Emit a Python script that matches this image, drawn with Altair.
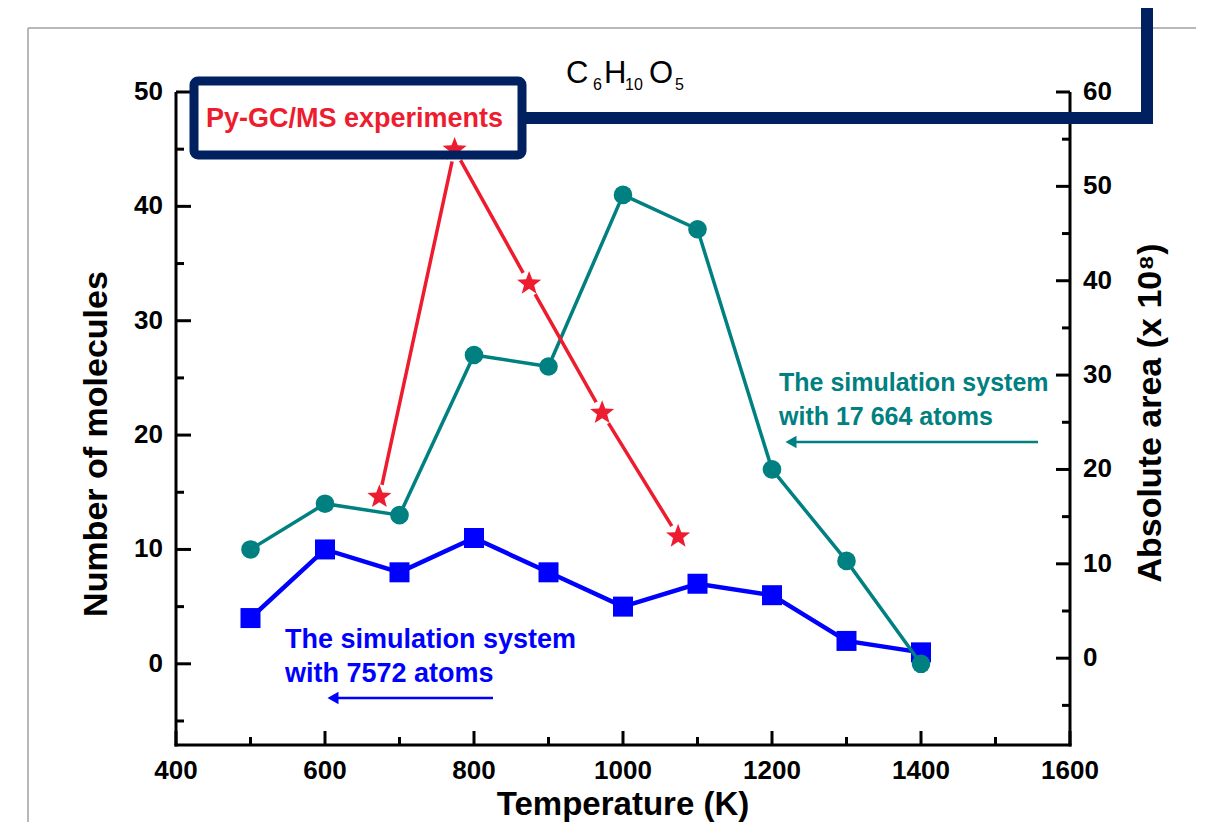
import altair as alt
import pandas as pd

# ---------------- data ----------------
temps_sim = [500, 600, 700, 800, 900, 1000, 1100, 1200, 1300, 1400]
teal_vals = [10, 14, 13, 27, 26, 41, 38, 17, 9, 0]      # 17 664 atoms (left axis)
blue_vals = [4, 10, 8, 11, 8, 5, 7, 6, 2, 1]            # 7572 atoms (left axis)
temps_exp = [673, 774, 874, 972, 1074]
exp_vals = [17.1, 53.9, 39.7, 26.0, 12.9]               # Py-GC/MS (right axis)

left_major = [0, 10, 20, 30, 40, 50]
left_minor = [-5, 5, 15, 25, 35, 45]
right_major = [0, 10, 20, 30, 40, 50, 60]
right_minor = [-5, 5, 15, 25, 35, 45, 55]
x_major = [400, 600, 800, 1000, 1200, 1400, 1600]
x_minor = [500, 700, 900, 1100, 1300, 1500]
left_labels = ["0", "10", "20", "30", "40", "50"]
right_labels = ["0", "10", "20", "30", "40", "50", "60"]
x_labels = ["400", "600", "800", "1000", "1200", "1400", "1600"]

W, H = 894, 653
FONT = "Liberation Sans"
TEAL = "#008080"
BLUE = "#0000FF"
RED = "#ED1C2E"
NAVY = "#002060"

STAR = ("M0,-1 L0.247,-0.34 L0.951,-0.309 L0.4,0.13 L0.588,0.809 L0,0.42 "
        "L-0.588,0.809 L-0.4,0.13 L-0.951,-0.309 L-0.247,-0.34 Z")

df_sim = pd.DataFrame({"T": temps_sim, "teal": teal_vals, "blue": blue_vals})
df_exp = pd.DataFrame({"T": temps_exp, "v": exp_vals})
df_lt = pd.DataFrame({"v": left_major, "lab": left_labels})
df_rt = pd.DataFrame({"v": right_major, "lab": right_labels})
df_xt = pd.DataFrame({"t": x_major, "lab": x_labels})
one = pd.DataFrame({"a": [0]})

xs = alt.Scale(domain=[400, 1600], nice=False)
yl = alt.Scale(domain=[-7.1, 50], nice=False)
yr = alt.Scale(domain=[-9.2, 60], nice=False)

X = alt.X("T:Q", scale=xs, axis=None)
LBL = dict(font=FONT, fontSize=26, fontWeight="bold", color="black")

# ---------------- left-axis group ----------------
blue_line = alt.Chart(df_sim).mark_line(color=BLUE, strokeWidth=4.5).encode(
    x=X, y=alt.Y("blue:Q", scale=yl, axis=None))
blue_pts = alt.Chart(df_sim).mark_point(shape="square", filled=True, color=BLUE,
                                        size=400, opacity=1).encode(
    x=X, y=alt.Y("blue:Q", scale=yl, axis=None))
teal_line = alt.Chart(df_sim).mark_line(color=TEAL, strokeWidth=3.5).encode(
    x=X, y=alt.Y("teal:Q", scale=yl, axis=None))
teal_pts = alt.Chart(df_sim).mark_point(shape="circle", filled=True, color=TEAL,
                                        size=346, opacity=1).encode(
    x=X, y=alt.Y("teal:Q", scale=yl, axis=None))
lmaj = alt.Chart(df_lt).mark_rule(color="black", strokeWidth=3).encode(
    y=alt.Y("v:Q", scale=yl, axis=None), x=alt.value(0), x2=alt.value(15))
lmin = alt.Chart(pd.DataFrame({"v": left_minor})).mark_rule(color="black", strokeWidth=3).encode(
    y=alt.Y("v:Q", scale=yl, axis=None), x=alt.value(0), x2=alt.value(8))
llab = alt.Chart(df_lt).mark_text(align="right", baseline="middle", **LBL).encode(
    y=alt.Y("v:Q", scale=yl, axis=None), x=alt.value(-13), text="lab:N")
xmaj = alt.Chart(df_xt).mark_rule(color="black", strokeWidth=3).encode(
    x=alt.X("t:Q", scale=xs, axis=None), y=alt.value(H - 14), y2=alt.value(H))
xmin = alt.Chart(pd.DataFrame({"t": x_minor})).mark_rule(color="black", strokeWidth=3).encode(
    x=alt.X("t:Q", scale=xs, axis=None), y=alt.value(H - 8), y2=alt.value(H))
xlab = alt.Chart(df_xt).mark_text(align="center", baseline="middle", **LBL).encode(
    x=alt.X("t:Q", scale=xs, axis=None), y=alt.value(H + 26), text="lab:N")
left_group = alt.layer(blue_line, blue_pts, teal_line, teal_pts,
                       lmaj, lmin, llab, xmaj, xmin, xlab)

# ---------------- right-axis group ----------------
red_line = alt.Chart(df_exp).mark_line(color=RED, strokeWidth=3.5).encode(
    x=X, y=alt.Y("v:Q", scale=yr, axis=None))
red_halo = alt.Chart(df_exp).mark_point(shape="circle", filled=True, color="white",
                                        size=600, opacity=1).encode(
    x=X, y=alt.Y("v:Q", scale=yr, axis=None))
stars = alt.Chart(df_exp).mark_point(shape=STAR, filled=True, color=RED,
                                     size=640, opacity=1).encode(
    x=X, y=alt.Y("v:Q", scale=yr, axis=None))
rmaj = alt.Chart(df_rt).mark_rule(color="black", strokeWidth=3).encode(
    y=alt.Y("v:Q", scale=yr, axis=None), x=alt.value(W - 14), x2=alt.value(W))
rmin = alt.Chart(pd.DataFrame({"v": right_minor})).mark_rule(color="black", strokeWidth=3).encode(
    y=alt.Y("v:Q", scale=yr, axis=None), x=alt.value(W - 8), x2=alt.value(W))
rlab = alt.Chart(df_rt).mark_text(align="left", baseline="middle", **LBL).encode(
    y=alt.Y("v:Q", scale=yr, axis=None), x=alt.value(W + 13), text="lab:N")
right_group = alt.layer(red_line, red_halo, rmaj, rmin, rlab, stars)


# ---------------- annotations ----------------
def txt(s, x, y, size, color="black", weight="bold", angle=0, align="left"):
    return alt.Chart(one).mark_text(font=FONT, fontSize=size, fontWeight=weight, color=color,
                                    align=align, baseline="alphabetic", angle=angle,
                                    x=x, y=y, text=s).encode(
        opacity=alt.value(1))


def hrule(x, x2, y, color, width):
    return alt.Chart(one).mark_rule(color=color, strokeWidth=width).encode(
        x=alt.value(x), x2=alt.value(x2), y=alt.value(y))


def vrule(x, y, y2, color, width):
    return alt.Chart(one).mark_rule(color=color, strokeWidth=width).encode(
        x=alt.value(x), y=alt.value(y), y2=alt.value(y2))


def head(x, y, color):
    return alt.Chart(one).mark_point(shape="triangle-left", filled=True, color=color,
                                     size=160, opacity=1, x=x, y=y).encode(opacity=alt.value(1))


ann = [
    # axis lines
    vrule(0, 0, H + 1.5, "black", 3),
    vrule(W, 0, H + 1.5, "black", 3),
    hrule(-1.5, W + 1.5, H, "black", 3),
    # axis titles
    txt("Temperature (K)", W / 2, H + 70, 33, align="center"),
    txt("Number of molecules", -69, 352, 34, angle=270, align="center"),
    txt("Absolute area (x 10\u2078)", W + 91, 321, 34, angle=270, align="center"),
    # chart title C6H10O5
    txt("C", 390, -9, 31, weight="normal"),
    txt("6", 417, -2, 16, weight="normal"),
    txt("H", 428, -9, 31, weight="normal"),
    txt("10", 449, -2, 16, weight="normal"),
    txt("O", 473, -9, 31, weight="normal"),
    txt("5", 499, -2, 16, weight="normal"),
    # series notes
    txt("The simulation system", 109, 556, 27, BLUE),
    txt("with 7572 atoms", 109, 590, 27, BLUE),
    hrule(160, 317, 606, BLUE, 2.5),
    head(157, 606, BLUE),
    txt("The simulation system", 603, 299, 25, TEAL),
    txt("with 17 664 atoms", 603, 333, 25, TEAL),
    hrule(618, 862, 350, TEAL, 2.5),
    head(615, 350, TEAL),
    txt("Py-GC/MS experiments", 30, 35, 27, RED),
    # grey frame
    hrule(-148, 1040, -64, "#a0a0a0", 1.5),
    vrule(-148, -64, 745, "#a0a0a0", 1.5),
    # navy highlight box with connector
    alt.Chart(one).mark_rect(filled=False, stroke=NAVY, strokeWidth=9, cornerRadius=4,
                             x=18, x2=346, y=-11, y2=63).encode(opacity=alt.value(1)),
    hrule(350, 977, 26, NAVY, 12),
    vrule(971, -90, 32, NAVY, 12),
]

chart = alt.layer(left_group, right_group, *ann).resolve_scale(
    y="independent"
).properties(
    width=W, height=H,
    padding={"left": 168, "top": 84, "right": 126, "bottom": 77},
    autosize=alt.AutoSizeParams(type="none"),
    background="white",
).configure_view(stroke=None)

chart.save("out.html", embed_options={"renderer": "svg", "actions": False})
